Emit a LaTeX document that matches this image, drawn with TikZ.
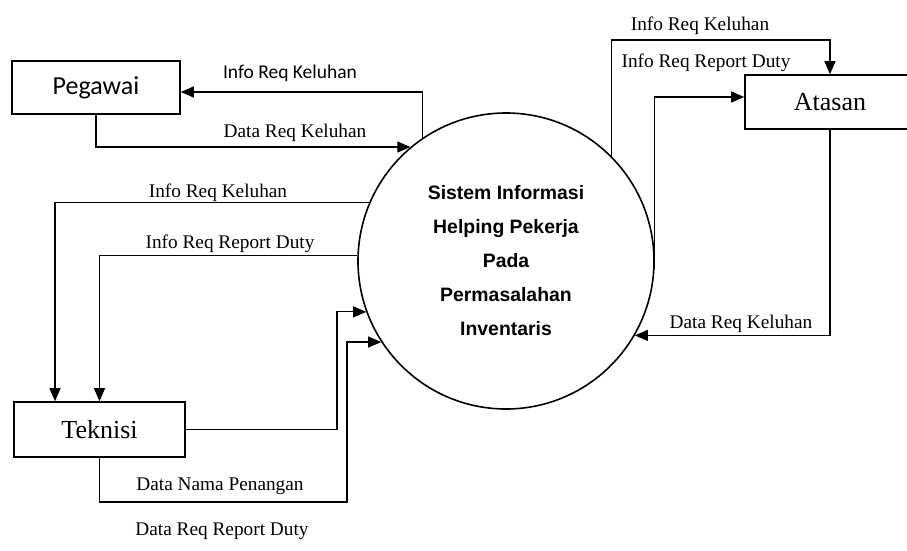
\documentclass[tikz,border=0pt]{standalone}
\usepackage{fontspec}
\setmainfont{Liberation Serif}
\newfontfamily\calfont{Carlito}
\newfontfamily\arfont{Liberation Sans}
\usetikzlibrary{arrows.meta}
\begin{document}
\begin{tikzpicture}[x=1pt,y=-1pt,
  entity/.style={draw, line width=1.6pt, inner sep=0pt, font=\fontsize{26}{30}\selectfont},
  flow/.style={draw, line width=1.1pt, -{Triangle[length=13pt,width=11pt]}},
  lbl/.style={font=\fontsize{19.3}{22}\selectfont, inner sep=0pt, anchor=base},
  clbl/.style={font=\calfont\fontsize{19.5}{22}\selectfont, inner sep=0pt, anchor=base},
  process/.style={circle, draw, line width=1.6pt, minimum size=296pt, inner sep=0pt,
    align=center, font=\arfont\bfseries\fontsize{19.4}{34}\selectfont},
  ]
\useasboundingbox (0,0) rectangle (907,551);
\fill[white] (0,0) rectangle (907,551);

% external entities and the central process
\node[entity, minimum width=168pt, minimum height=53pt, font=\calfont\fontsize{26}{30}\selectfont]
  (pegawai) at (96,87.5) {Pegawai};
\node[entity, minimum width=170pt, minimum height=54pt] (atasan) at (830,102) {Atasan};
\node[entity, minimum width=171pt, minimum height=55pt] (teknisi) at (99.5,429.5) {Teknisi};
\node[process] (circ) at (506,261)
  {Sistem Informasi\\Helping Pekerja\\Pada\\Permasalahan\\Inventaris};

% Pegawai flows
\draw[flow] (circ.124.6) |- (pegawai.east |- 0,92);
\draw[flow] (pegawai.south) |- (circ.130.2);
\node[clbl] (lpi) at (290,78) {Info Req Keluhan};
\node[lbl] (lpd) at (295,137) {Data Req Keluhan};

% Atasan flows
\draw[flow] (circ.45.9) -- (circ.45.9 |- 0,40) -| (atasan.north);
\draw[flow] (circ.-3) |- (atasan.west |- 0,97);
\draw[flow] (atasan.south) |- (circ.-30);
\node[lbl] (lai) at (700,31) {Info Req Keluhan};
\node[lbl] (lar) at (706,67) {Info Req Report Duty};
\node[lbl] (lad) at (741,328) {Data Req Keluhan};

% Teknisi flows
\draw[flow] (circ.157.8) -| (teknisi.north -| 55,0);
\draw[flow] (circ.178.5) -| (teknisi.north);
\draw[flow] (teknisi.east) -- (teknisi.east -| 337,0) |- (circ.200.2);
\draw[flow] (teknisi.south) |- (347,502) |- (circ.213.6);
\node[lbl] (lti) at (218,197) {Info Req Keluhan};
\node[lbl] (ltr) at (230,248) {Info Req Report Duty};
\node[lbl] (ltn) at (220,490) {Data Nama Penangan};
\node[lbl] (ltd) at (222,535) {Data Req Report Duty};
\end{tikzpicture}
\end{document}
